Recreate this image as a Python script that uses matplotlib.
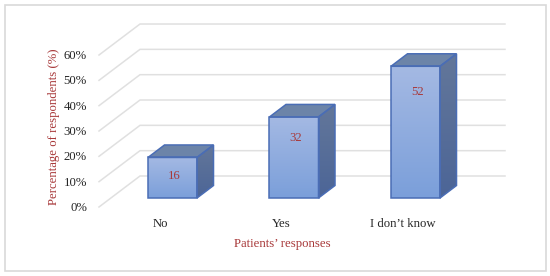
import numpy as np
import matplotlib
matplotlib.use('Agg')
import matplotlib.pyplot as plt
from matplotlib.patches import Polygon, Rectangle

categories = ['No', 'Yes', "I don\u2019t know"]
values = [16, 32, 52]
ticks = [0, 10, 20, 30, 40, 50, 60]
tick_labels = ['0%', '10%', '20%', '30%', '40%', '50%', '60%']

plt.rcParams['font.family'] = ['Liberation Serif', 'DejaVu Serif']

RED = '#a8393a'
DARK = '#262626'
GRID = '#e0e0e0'
EDGE = '#4a6db5'

# one category = 121.5 px, one percent = 2.533 px
x_unit = 121.5
y_unit = 2.533
grid_dx = 41 / x_unit
grid_dy = 31 / y_unit
bar_dx = 16.5 / x_unit
bar_dy = 12.5 / y_unit
bar_w = 49 / x_unit
base = 9 / y_unit

fig = plt.figure(figsize=(5.5, 2.76), dpi=100)
ax = fig.add_axes([0, 0, 1, 1])
ax.axis('off')

# outer frame
fig.add_artist(Rectangle((4.5 / 550, 5 / 276), 541 / 550, 266.5 / 276, fill=False,
                         edgecolor='#d9d9d9', linewidth=1.2, transform=fig.transFigure))

# back wall + side wall lines
x_front = -73.5 / x_unit
x_end = 332.5 / x_unit
for t, lab in zip(ticks, tick_labels):
    ax.plot([x_front, x_front + grid_dx, x_end], [t, t + grid_dy, t + grid_dy],
            color=GRID, lw=1.1, zorder=1, solid_joinstyle='miter')
    ax.text(x_front - 12 / x_unit, t - 0.4, lab, ha='right', va='center',
            fontsize=9.2, color=DARK)


def gradient(verts, top, bottom, z):
    # vertical gradient clipped to the face
    poly = Polygon(verts, closed=True, facecolor='none', edgecolor='none', zorder=z)
    ax.add_patch(poly)
    xs = [v[0] for v in verts]
    ys = [v[1] for v in verts]
    c1 = np.array(matplotlib.colors.to_rgb(top))
    c2 = np.array(matplotlib.colors.to_rgb(bottom))
    f = np.linspace(0, 1, 64)[:, None]
    img = (c1 * (1 - f) + c2 * f)[:, None, :]
    im = ax.imshow(img, extent=[min(xs), max(xs), min(ys), max(ys)], aspect='auto',
                   zorder=z, interpolation='bilinear')
    im.set_clip_path(poly)


for i, v in enumerate(values):
    l = i - bar_w / 2
    r = i + bar_w / 2
    top = base + v
    front = [(l, base), (r, base), (r, top), (l, top)]
    side = [(r, base), (r + bar_dx, base + bar_dy), (r + bar_dx, top + bar_dy), (r, top)]
    roof = [(l, top), (r, top), (r + bar_dx, top + bar_dy), (l + bar_dx, top + bar_dy)]
    gradient(side, '#63779a', '#4c6597', 3)
    ax.add_patch(Polygon(roof, closed=True, facecolor='#6c84a8', edgecolor='none', zorder=3))
    gradient(front, '#a4b9e3', '#7b9fda', 4)
    for face in (side, roof, front):
        ax.add_patch(Polygon(face, closed=True, fill=False, edgecolor=EDGE, lw=1.1, zorder=5))
    # value label sits a bit lower on the taller bars
    ax.text(i + 2 / x_unit, top - (15 + 0.2 * v) / y_unit, str(v),
            ha='center', va='center', fontsize=9.2, color=RED, zorder=6)
    ax.text(i - 12.5 / x_unit, -17 / y_unit, categories[i], ha='center', va='center',
            fontsize=9.2, color=DARK)

ax.set_xlim(-172.5 / x_unit, 377.5 / x_unit)
ax.set_ylim(-69 / y_unit, 207 / y_unit)

ax.text(109.5 / x_unit, -37 / y_unit, 'Patients\u2019 responses', ha='center', va='center',
        fontsize=9.2, color=RED)
ax.text(-118 / x_unit, 80 / y_unit, 'Percentage of respondents (%)', rotation=90,
        ha='center', va='center', fontsize=9.2, color=RED)

fig.savefig('out.png', dpi=100)
